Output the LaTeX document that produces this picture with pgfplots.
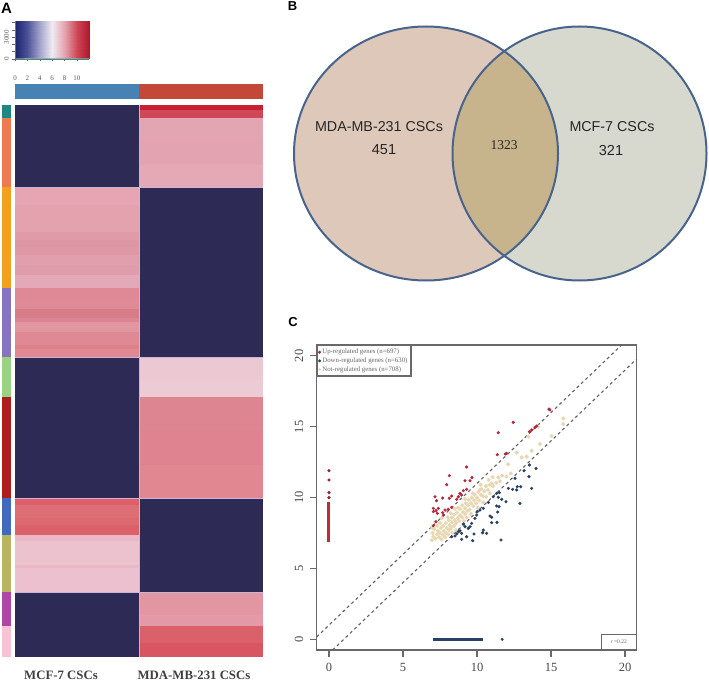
\documentclass[border=0pt]{standalone}
\usepackage{fontspec}
\setmainfont{Liberation Serif}
\newfontfamily\arialf{Liberation Sans}
\usepackage{pgfplots}
\pgfplotsset{compat=1.18}
\definecolor{axgray}{RGB}{105,105,105}
\definecolor{upred}{RGB}{178,40,60}
\definecolor{downblue}{RGB}{40,65,100}
\definecolor{notbeige}{RGB}{232,215,178}
\newcommand{\cell}[7]{\addplot[draw=none,mark=none,fill={rgb,255:red,#5;green,#6;blue,#7},forget plot] coordinates {(#1,#3)(#2,#3)(#2,#4)(#1,#4)} -- cycle;}
\newcommand{\lcol}[5]{\cell{15}{139.3}{#1}{#2}{#3}{#4}{#5}}
\newcommand{\rcol}[5]{\cell{139.3}{263}{#1}{#2}{#3}{#4}{#5}}
\newcommand{\sbar}[5]{\cell{2}{11}{#1}{#2}{#3}{#4}{#5}}
\newcommand{\sepl}[4]{\addplot[mark=none,forget plot,line width=0.8pt,color={rgb,255:red,205;green,180;blue,215}] coordinates {(#1,#3)(#2,#4)};}
\begin{document}
\begin{tikzpicture}[x=1pt,y=1pt]
\useasboundingbox (0,0) rectangle (709,682);
% master axis in page pixels: heat map and Venn diagram
\begin{axis}[at={(0pt,0pt)},anchor=south west,scale only axis,width=709pt,height=682pt,
  xmin=0,xmax=709,ymin=0,ymax=682,y dir=reverse,hide axis,clip=false]
% annotation bar
\cell{15}{139.3}{84}{99.5}{70}{130}{180}
\cell{139.3}{263}{84}{99.5}{195}{72}{56}
% row side bar
\sbar{105}{118}{30}{135}{130}
\sbar{118}{187}{238}{122}{80}
\sbar{187}{288}{243}{160}{30}
\sbar{288}{357}{135}{115}{190}
\sbar{357}{397}{155}{210}{130}
\sbar{397}{498}{175}{30}{30}
\sbar{498}{535}{65}{105}{190}
\sbar{535}{592}{185}{180}{95}
\sbar{592}{626}{175}{70}{165}
\sbar{626}{657}{245}{195}{210}
% left column
\lcol{105}{187}{45}{42}{85}
\lcol{187}{205}{229}{165}{178}
\lcol{205}{232}{228}{161}{174}
\lcol{232}{240}{224}{155}{169}
\lcol{240}{247}{221}{150}{164}
\lcol{247}{255}{222}{152}{166}
\lcol{255}{265}{225}{159}{174}
\lcol{265}{275}{223}{156}{171}
\lcol{275}{288}{228}{169}{184}
\lcol{288}{300}{222}{137}{149}
\lcol{300}{309}{223}{139}{151}
\lcol{309}{318}{215}{125}{138}
\lcol{318}{322}{219}{133}{146}
\lcol{322}{332}{226}{150}{161}
\lcol{332}{345}{222}{137}{147}
\lcol{345}{349}{221}{129}{139}
\lcol{349}{357}{225}{136}{146}
\lcol{357}{498}{45}{42}{85}
\lcol{498}{505}{222}{95}{105}
\lcol{505}{518}{222}{110}{118}
\lcol{518}{525}{220}{104}{112}
\lcol{525}{534.5}{219}{96}{106}
\lcol{534.5}{541}{235}{184}{199}
\lcol{541}{565}{236}{194}{207}
\lcol{565}{568}{233}{184}{198}
\lcol{568}{592}{236}{192}{206}
\lcol{592}{657}{45}{42}{85}
% right column
\rcol{105}{110}{200}{32}{50}
\rcol{110}{118}{208}{72}{88}
\rcol{118}{140}{228}{165}{178}
\rcol{140}{165}{227}{163}{176}
\rcol{165}{187}{229}{169}{181}
\rcol{187}{357}{45}{42}{85}
\rcol{357}{380}{235}{200}{210}
\rcol{380}{397}{236}{203}{213}
\rcol{397}{430}{221}{133}{145}
\rcol{430}{465}{222}{131}{143}
\rcol{465}{498}{224}{135}{146}
\rcol{498}{592}{45}{42}{85}
\rcol{592}{615}{226}{150}{162}
\rcol{615}{626}{227}{154}{166}
\rcol{626}{643}{218}{96}{106}
\rcol{643}{657}{215}{86}{98}
% soft edges between blocks
\sepl{139.3}{139.3}{105}{657}
\sepl{15}{263}{187}{187}
\sepl{15}{263}{357}{357}
\sepl{15}{263}{498}{498}
\sepl{15}{263}{592}{592}
% Venn diagram
\fill[fill={rgb,255:red,222;green,200;blue,186}] (axis cs:426,153.5) ellipse [x radius=132,y radius=127];
\fill[fill={rgb,255:red,215;green,217;blue,207}] (axis cs:579.5,153.5) ellipse [x radius=127,y radius=127];
\begin{scope}
\clip (axis cs:426,153.5) ellipse [x radius=132,y radius=127];
\fill[fill={rgb,255:red,200;green,180;blue,140}] (axis cs:579.5,153.5) ellipse [x radius=127,y radius=127];
\end{scope}
\draw[line width=2pt,color={rgb,255:red,72;green,100;blue,140}] (axis cs:426,153.5) ellipse [x radius=132,y radius=127];
\draw[line width=2pt,color={rgb,255:red,72;green,100;blue,140}] (axis cs:579.5,153.5) ellipse [x radius=127,y radius=127];
% texts
\node[font=\arialf\fontsize{14.3}{16}\selectfont,color={black!85}] at (axis cs:379,127) {MDA-MB-231 CSCs};
\node[font=\arialf\fontsize{14.5}{16}\selectfont,color={black!85}] at (axis cs:384,150) {451};
\node[font=\arialf\fontsize{14.3}{16}\selectfont,color={black!85}] at (axis cs:612,127) {MCF-7 CSCs};
\node[font=\arialf\fontsize{14.5}{16}\selectfont,color={black!85}] at (axis cs:611,151) {321};
\node[font=\fontsize{13.5}{15}\selectfont,color={black!85}] at (axis cs:504,145) {1323};
\node[font=\bfseries\fontsize{12.8}{14}\selectfont,color={black!75}] at (axis cs:61,675) {MCF-7 CSCs};
\node[font=\bfseries\fontsize{12.8}{14}\selectfont,color={black!75}] at (axis cs:194,675) {MDA-MB-231 CSCs};
\node[font=\arialf\bfseries\fontsize{15}{16}\selectfont] at (axis cs:6.5,8) {A};
\node[font=\arialf\bfseries\fontsize{13}{14}\selectfont] at (axis cs:292.5,6) {B};
\node[font=\arialf\bfseries\fontsize{13}{14}\selectfont] at (axis cs:293,322.5) {C};
\end{axis}
% colour key
\begin{axis}[at={(15pt,623pt)},anchor=south west,scale only axis,width=74pt,height=38pt,
  xmin=0,xmax=11.94,ymin=0,ymax=5200,view={0}{90},
  colormap={heatkey}{rgb255(0)=(28,35,110);rgb255(2)=(75,80,150);rgb255(4)=(165,165,205);rgb255(6)=(240,235,242);rgb255(8)=(228,160,172);rgb255(10)=(205,70,85);rgb255(11.94)=(175,25,45)},
  point meta min=0,point meta max=11.94,
  axis x line*=bottom,axis y line*=left,
  axis line style={color=black!55,line width=0.4pt},
  tick style={color=black!60,line width=0.5pt},tick align=outside,
  major tick length=2.5pt,
  xtick={0,2,4,6,8,10},ytick={0,1000,2000,3000,4000,5000},
  yticklabels={0,,,3000,,},
  tick label style={font=\fontsize{7}{8}\selectfont,color=black!65},
  /pgf/number format/assume math mode=true,
  yticklabel style={rotate=90,anchor=south,xshift=0pt},
  xticklabel style={yshift=-11pt},
  scaled y ticks=false]
\addplot3[surf,shader=interp,mesh/rows=2,point meta=\thisrow{c}] table {
x y z c
0 0 0 0
2 0 0 2
4 0 0 4
6 0 0 6
8 0 0 8
10 0 0 10
11.94 0 0 11.94
0 5200 0 0
2 5200 0 2
4 5200 0 4
6 5200 0 6
8 5200 0 8
10 5200 0 10
11.94 5200 0 11.94
};
\addplot3[color={rgb,255:red,90;green,190;blue,180},line width=0.7pt,mark=none] coordinates {(0,30,0)(2,60,0)(4,40,0)(6,90,0)(8,110,0)(10,50,0)(11.94,30,0)};
\end{axis}
% scatter
\begin{axis}[at={(316.7pt,32pt)},anchor=south west,scale only axis,width=320pt,height=305pt,
  xmin=-0.83,xmax=20.79,ymin=-0.755,ymax=20.77,
  axis line style={color=axgray,line width=1.4pt},
  tick style={color=axgray,line width=1.1pt},
  tick align=outside,tick pos=left,major tick length=7pt,
  xtick={0,5,10,15,20},ytick={0,5,10,15,20},
  tick label style={font=\fontsize{12.5}{13}\selectfont,color=black!72},
  /pgf/number format/assume math mode=true,
  yticklabel style={rotate=90,anchor=south,yshift=3pt},
  xticklabel style={yshift=-3pt},
  legend style={at={(0,1)},anchor=north west,draw=axgray,line width=1.2pt,fill=white,
    font=\fontsize{6.8}{7.4}\selectfont,text=black!60,inner sep=1.5pt,row sep=-1.6pt,
    legend cell align=left},
  legend image post style={xshift=3pt}]
\addlegendimage{only marks,mark=*,mark size=0.8pt,color=upred}
\addlegendentry{Up-regulated genes (n=697)}
\addlegendimage{only marks,mark=*,mark size=0.8pt,color=downblue}
\addlegendentry{Down-regulated genes (n=630)}
\addlegendimage{only marks,mark=*,mark size=0.6pt,color=notbeige}
\addlegendentry{Not-regulated genes (n=708)}
\addplot[only marks,mark=*,mark size=1.9pt,color=notbeige,forget plot] table {
6.95 7.0
7.05 7.25
7.0 7.5
7.1 7.8
7.2 7.1
7.3 7.4
7.35 7.65
7.3 8.0
7.45 7.2
7.5 7.5
7.55 7.85
7.5 8.2
7.6 7.05
7.7 7.35
7.75 7.65
7.7 8.0
7.85 7.2
7.9 7.5
7.95 7.85
7.9 8.2
8.05 7.4
8.1 7.7
8.15 8.05
8.1 8.4
8.25 7.85
8.3 8.25
8.3 8.6
8.45 8.0
8.5 8.4
8.45 8.8
8.6 8.2
8.7 8.55
8.65 8.95
8.8 8.35
8.85 8.75
8.85 9.2
9.0 8.6
9.05 9.0
9.0 9.45
9.2 8.85
9.2 9.25
9.25 9.6
9.35 9.05
9.4 9.45
9.45 9.85
9.5 9.15
9.6 9.6
9.65 10.0
9.75 9.4
9.8 9.8
9.85 10.2
9.95 9.6
10.0 10.0
10.1 10.4
10.15 9.8
10.25 10.2
10.3 10.6
10.4 10.1
10.5 10.45
10.6 10.8
10.75 10.55
10.85 10.9
10.99 11.0
11.1 10.8
11.3 11.05
11.44 11.43
11.7 11.55
12.0 11.48
6.98 7.85
7.18 8.3
7.62 8.55
8.22 8.9
8.02 8.62
8.5 9.2
8.58 7.7
8.32 7.55
9.12 8.35
9.3 8.6
8.72 9.3
9.18 9.9
9.58 8.85
9.72 10.3
10.18 10.55
10.05 9.3
10.42 9.65
10.62 10.05
10.25 10.9
10.78 11.25
11.05 11.45
10.88 10.3
11.55 11.15
12.28 11.7
12.1 12.35
12.68 13.17
13.02 12.84
13.36 12.89
13.47 14.3
13.69 13.31
14.14 15.0
14.26 13.78
15.04 14.35
15.83 15.19
15.83 15.59
};
\addplot[only marks,mark=*,mark size=1.4pt,color=upred,forget plot] table {
14.93 16.18
14.86 16.25
12.45 15.31
11.44 14.58
13.54 14.65
14.03 15.05
13.69 14.77
13.92 14.96
11.37 13.03
11.91 13.08
12.00 13.12
9.30 12.16
8.13 11.55
7.95 10.91
9.19 11.19
9.53 11.19
9.66 11.41
7.16 10.06
7.27 9.78
7.68 9.97
8.13 9.95
8.29 10.11
8.74 10.06
8.85 10.30
9.08 10.49
9.30 10.58
8.63 9.88
8.96 10.18
7.05 9.24
7.23 9.08
7.39 9.24
7.05 9.01
7.32 8.89
7.68 8.94
7.84 9.12
8.06 9.17
8.29 9.31
7.73 8.77
7.23 8.30
7.05 8.02
};
\addplot[only marks,mark=*,mark size=1.4pt,color=upred!80!black,forget plot] table {
0 11.9
0 11.24
0 10.35
0 10.0
};
\addplot[line width=3pt,mark=none,color={rgb,255:red,190;green,45;blue,55},forget plot] coordinates {(0,9.7)(0,9.0)(0,8.0)(0,7.0)(0,6.9)};
\addplot[only marks,mark=*,mark size=1.4pt,color=downblue,forget plot] table {
11.62 7.01
12.90 9.59
13.69 10.65
13.99 12.06
13.54 12.30
13.18 11.90
13.51 11.48
12.57 11.36
12.12 10.65
12.41 10.58
12.68 10.54
12.72 10.77
12.95 10.77
11.33 10.30
11.51 10.35
11.10 10.06
11.44 10.02
11.67 9.88
11.96 9.71
11.33 9.41
11.49 9.36
10.77 9.66
11.40 8.98
10.88 8.70
10.99 8.61
10.99 8.23
11.35 8.25
10.43 9.24
10.20 9.12
10.02 9.01
9.98 8.77
9.86 8.54
9.64 8.18
9.53 7.95
9.41 7.83
9.19 7.95
9.08 8.14
8.74 7.59
8.96 7.48
8.51 7.29
8.29 7.24
9.30 7.24
8.96 7.05
9.71 6.96
9.80 7.43
10.43 7.71
10.65 7.48
10.38 7.52
8.63 7.43
8.85 7.66
};
\addplot[line width=2.4pt,mark=none,color=downblue,forget plot] coordinates {(7.0,0)(8.0,0)(9.0,0)(10.4,0)};
\addplot[only marks,mark=*,mark size=1.3pt,color=downblue,forget plot] coordinates {(11.7,0)};
\addplot[dashed,mark=none,color=black!62,line width=1.1pt,forget plot] coordinates {(-0.83,0.17)(19.79,20.79)};
\addplot[dashed,mark=none,color=black!62,line width=1.1pt,forget plot] coordinates {(0.245,-0.755)(20.79,19.79)};
\node[draw=axgray,line width=1.2pt,fill=white,anchor=south east,minimum width=34.5pt,minimum height=14.5pt,inner sep=1pt,font=\fontsize{5.5}{6}\selectfont,text=black!60] at (rel axis cs:1,0) {r =0.22};
\end{axis}
\end{tikzpicture}
\end{document}
